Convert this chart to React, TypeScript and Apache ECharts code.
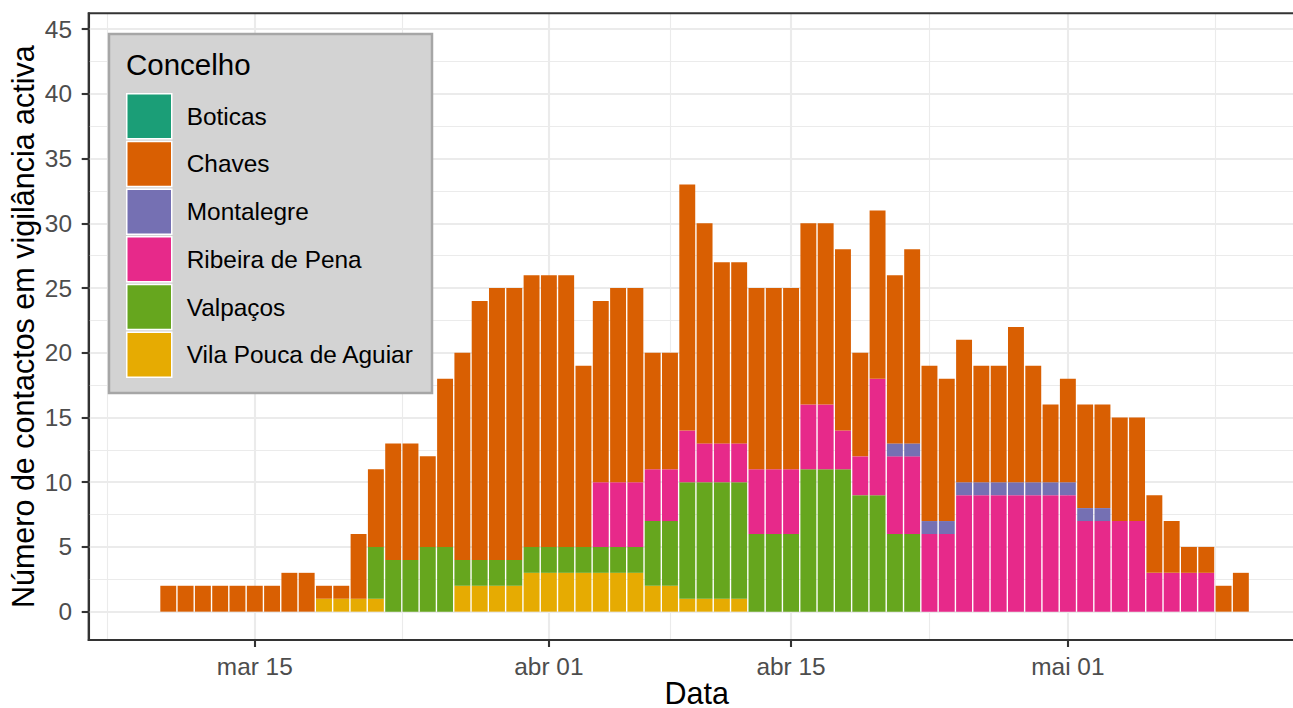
import React, { useEffect, useRef } from "react";
import * as echarts from "echarts";

const dates = [
  "2020-03-09", "2020-03-10", "2020-03-11", "2020-03-12", "2020-03-13", "2020-03-14", "2020-03-15", "2020-03-16",
  "2020-03-17", "2020-03-18", "2020-03-19", "2020-03-20", "2020-03-21", "2020-03-22", "2020-03-23", "2020-03-24",
  "2020-03-25", "2020-03-26", "2020-03-27", "2020-03-28", "2020-03-29", "2020-03-30", "2020-03-31", "2020-04-01",
  "2020-04-02", "2020-04-03", "2020-04-04", "2020-04-05", "2020-04-06", "2020-04-07", "2020-04-08", "2020-04-09",
  "2020-04-10", "2020-04-11", "2020-04-12", "2020-04-13", "2020-04-14", "2020-04-15", "2020-04-16", "2020-04-17",
  "2020-04-18", "2020-04-19", "2020-04-20", "2020-04-21", "2020-04-22", "2020-04-23", "2020-04-24", "2020-04-25",
  "2020-04-26", "2020-04-27", "2020-04-28", "2020-04-29", "2020-04-30", "2020-05-01", "2020-05-02", "2020-05-03",
  "2020-05-04", "2020-05-05", "2020-05-06", "2020-05-07", "2020-05-08", "2020-05-09", "2020-05-10", "2020-05-11",
];

const boticas = [
  0, 0, 0, 0, 0, 0, 0, 0, 0, 0, 0, 0, 0, 0, 0, 0,
  0, 0, 0, 0, 0, 0, 0, 0, 0, 0, 0, 0, 0, 0, 0, 0,
  0, 0, 0, 0, 0, 0, 0, 0, 0, 0, 0, 0, 0, 0, 0, 0,
  0, 0, 0, 0, 0, 0, 0, 0, 0, 0, 0, 0, 0, 0, 0, 0,
];
const chaves = [
  0, 2, 2, 2, 2, 2, 2, 2, 3, 3, 1, 1, 5, 6, 9, 9,
  7, 13, 16, 20, 21, 21, 21, 21, 21, 14, 14, 15, 15, 9, 9, 19,
  17, 14, 14, 14, 14, 14, 14, 14, 14, 8, 13, 13, 15, 12, 11, 11,
  9, 9, 12, 9, 6, 8, 8, 8, 8, 8, 6, 4, 2, 2, 2, 3,
];
const montalegre = [
  0, 0, 0, 0, 0, 0, 0, 0, 0, 0, 0, 0, 0, 0, 0, 0,
  0, 0, 0, 0, 0, 0, 0, 0, 0, 0, 0, 0, 0, 0, 0, 0,
  0, 0, 0, 0, 0, 0, 0, 0, 0, 0, 0, 1, 1, 1, 1, 1,
  1, 1, 1, 1, 1, 1, 1, 1, 0, 0, 0, 0, 0, 0, 0, 0,
];
const ribeira = [
  0, 0, 0, 0, 0, 0, 0, 0, 0, 0, 0, 0, 0, 0, 0, 0,
  0, 0, 0, 0, 0, 0, 0, 0, 0, 0, 5, 5, 5, 4, 4, 4,
  3, 3, 3, 5, 5, 5, 5, 5, 3, 3, 9, 6, 6, 6, 6, 9,
  9, 9, 9, 9, 9, 9, 7, 7, 7, 7, 3, 3, 3, 3, 0, 0,
];
const valpacos = [
  0, 0, 0, 0, 0, 0, 0, 0, 0, 0, 0, 0, 0, 4, 4, 4,
  5, 5, 2, 2, 2, 2, 2, 2, 2, 2, 2, 2, 2, 5, 5, 9,
  9, 9, 9, 6, 6, 6, 11, 11, 11, 9, 9, 6, 6, 0, 0, 0,
  0, 0, 0, 0, 0, 0, 0, 0, 0, 0, 0, 0, 0, 0, 0, 0,
];
const vilaPouca = [
  0, 0, 0, 0, 0, 0, 0, 0, 0, 0, 1, 1, 1, 1, 0, 0,
  0, 0, 2, 2, 2, 2, 3, 3, 3, 3, 3, 3, 3, 2, 2, 1,
  1, 1, 1, 0, 0, 0, 0, 0, 0, 0, 0, 0, 0, 0, 0, 0,
  0, 0, 0, 0, 0, 0, 0, 0, 0, 0, 0, 0, 0, 0, 0, 0,
];

const legendOrder = ["Boticas", "Chaves", "Montalegre", "Ribeira de Pena", "Valpaços", "Vila Pouca de Aguiar"];

const tickDates = ["2020-03-15", "2020-04-01", "2020-04-15", "2020-05-01"];
const tickLabels = ["mar 15", "abr 01", "abr 15", "mai 01"];
const minorXPositions = [-2.5, 14.5, 30, 45, 61.5];
const yTicks = [0, 5, 10, 15, 20, 25, 30, 35, 40, 45];
const yMinor = [2.5, 7.5, 12.5, 17.5, 22.5, 27.5, 32.5, 37.5, 42.5];

const FONT = "'Liberation Sans', Arial, Helvetica, sans-serif";

export default function App() {
  const ref = useRef<HTMLDivElement>(null);

  useEffect(() => {
    if (!ref.current) return;
    const chart = echarts.init(ref.current, undefined, { renderer: "svg" });

    const tickIdx = tickDates.map((d) => dates.indexOf(d));
    const labelFor = (v: number) => {
      const k = tickIdx.indexOf(Math.round(v));
      return k >= 0 ? tickLabels[k] : "";
    };

    const stackSeries = [
      { name: "Vila Pouca de Aguiar", values: vilaPouca, color: "#E6AB02" },
      { name: "Valpaços", values: valpacos, color: "#66A61E" },
      { name: "Ribeira de Pena", values: ribeira, color: "#E7298A" },
      { name: "Montalegre", values: montalegre, color: "#7570B3" },
      { name: "Chaves", values: chaves, color: "#D95F02" },
      { name: "Boticas", values: boticas, color: "#1B9E77" },
    ];

    const gridLine = (w: number) => ({ color: "#EBEBEB", width: w, type: "solid" as const });

    const option: any = {
      animation: false,
      textStyle: { fontFamily: FONT },
      grid: {
        left: 88.7,
        top: 13.3,
        width: 1216,
        bottom: 68,
        show: true,
        borderColor: "#333333",
        borderWidth: 2.1,
        backgroundColor: "transparent",
        z: 3,
        containLabel: false,
        outerBoundsMode: "none",
      },
      xAxis: {
        type: "value",
        min: -3.6,
        max: 66.69,
        name: "Data",
        nameLocation: "middle",
        nameGap: 37,
        nameMoveOverlap: false,
        nameTextStyle: { fontSize: 30.5, color: "#000000", fontFamily: FONT },
        axisLine: { show: true, onZero: false, lineStyle: { color: "#333333", width: 2.1 } },
        axisTick: { show: true, length: 7, lineStyle: { color: "#333333", width: 2.1 }, customValues: tickIdx },
        axisLabel: {
          customValues: tickIdx,
          formatter: (v: number) => labelFor(v),
          fontSize: 24.4,
          color: "#4D4D4D",
          margin: 14,
          fontFamily: FONT,
        },
        splitLine: { show: false },
      },
      yAxis: {
        type: "value",
        min: -2.19,
        max: 46.23,
        name: "Número de contactos em vigilância activa",
        nameLocation: "middle",
        nameGap: 50,
        nameRotate: 90,
        nameMoveOverlap: false,
        nameTextStyle: { fontSize: 30.5, color: "#000000", fontFamily: FONT },
        axisLine: { show: true, onZero: false, lineStyle: { color: "#333333", width: 2.1 } },
        axisTick: { show: true, length: 7, lineStyle: { color: "#333333", width: 2.1 }, customValues: yTicks },
        axisLabel: {
          customValues: yTicks,
          fontSize: 24.4,
          color: "#4D4D4D",
          margin: 16.7,
          fontFamily: FONT,
        },
        splitLine: { show: false },
      },
      legend: {
        data: legendOrder,
        orient: "vertical",
        left: 126,
        top: 93,
        padding: 0,
        itemWidth: 45,
        itemHeight: 45,
        itemGap: 1.2,
        icon: "rect",
        selectedMode: false,
        itemStyle: { borderColor: "#FFFFFF", borderWidth: 1.5 },
        textStyle: { fontSize: 24.4, color: "#000000", fontFamily: FONT, padding: [0, 0, 0, 10] },
      },
      graphic: [
        {
          type: "rect",
          z: 3,
          shape: { x: 109, y: 34, width: 323, height: 359 },
          style: { fill: "#D3D3D3", stroke: "#A6A6A6", lineWidth: 2.5 },
          silent: true,
        },
        {
          type: "text",
          z: 5,
          x: 126,
          y: 64,
          style: {
            text: "Concelho",
            fontSize: 29.5,
            fontFamily: FONT,
            fill: "#000000",
            verticalAlign: "middle",
            align: "left",
          },
          silent: true,
        },
      ],
      series: [
        {
          type: "line",
          name: "__grid",
          data: [],
          silent: true,
          markLine: {
            silent: true,
            z: 1,
            symbol: "none",
            animation: false,
            label: { show: false },
            emphasis: { disabled: true },
            data: [
              ...yMinor.map((v) => ({ yAxis: v, lineStyle: gridLine(1.1) })),
              ...minorXPositions.map((v) => ({ xAxis: v, lineStyle: gridLine(1.1) })),
              ...yTicks.map((v) => ({ yAxis: v, lineStyle: gridLine(2.1) })),
              ...tickIdx.map((v) => ({ xAxis: v, lineStyle: gridLine(2.1) })),
            ],
          },
        },
        ...stackSeries.map((s) => ({
          type: "bar",
          name: s.name,
          stack: "total",
          barWidth: "92%",
          z: 2,
          itemStyle: { color: s.color },
          emphasis: { disabled: true },
          // value first so that the stacking happens on the y dimension
          encode: { x: 1, y: 0 },
          data: s.values.map((v, i) => [v, i]),
        })),
      ],
    };

    chart.setOption(option);
    return () => chart.dispose();
  }, []);

  return (
    <div
      ref={ref}
      style={{ position: "fixed", left: 0, top: 0, width: 1293, height: 708, background: "#FFFFFF" }}
    />
  );
}
